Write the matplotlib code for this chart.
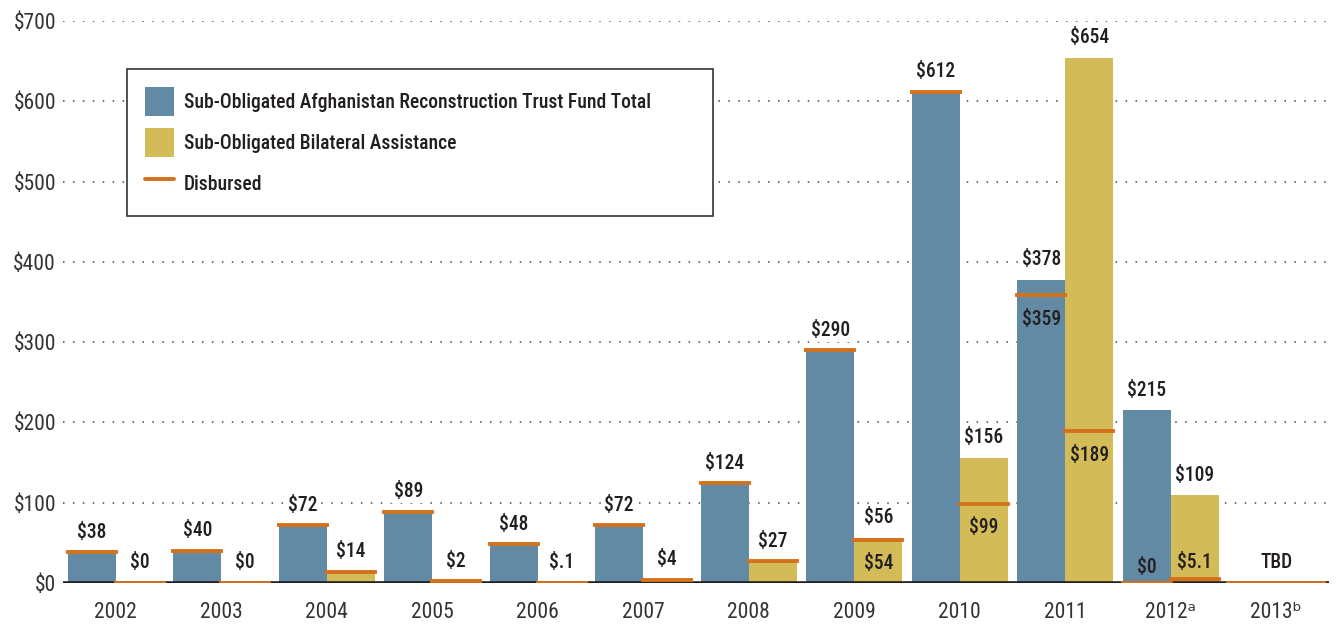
import numpy as np
import matplotlib
matplotlib.use("Agg")
import matplotlib.pyplot as plt
from matplotlib import font_manager as fm
from matplotlib.patches import Patch
from matplotlib.lines import Line2D

# Condensed sans for all text, with DejaVu Sans behind it for any missing glyph
available = {f.name for f in fm.fontManager.ttflist}
for cand in ["Roboto Condensed", "IBM Plex Sans Condensed", "Fira Sans Condensed",
             "Liberation Sans Narrow"]:
    if cand in available:
        BASE = cand
        break
else:
    BASE = "DejaVu Sans"
FAMILY = [BASE, "DejaVu Sans"]
plt.rcParams["font.family"] = FAMILY

# Fiscal years and amounts ($ millions)
years = ["2002", "2003", "2004", "2005", "2006", "2007", "2008", "2009",
         "2010", "2011", "2012\u1d43", "2013\u1d47"]
artf_obligated = [38, 40, 72, 89, 48, 72, 124, 290, 612, 378, 215, np.nan]
artf_disbursed = [38, 40, 72, 89, 48, 72, 124, 290, 612, 359, 0, np.nan]
bilat_obligated = [0, 0, 14, 2, 0.1, 4, 27, 56, 156, 654, 109, np.nan]
bilat_disbursed = [0, 0, 14, 2, 0.1, 4, 27, 54, 99, 189, 5.1, np.nan]
yticks = [0, 100, 200, 300, 400, 500, 600, 700]
legend_labels = [
    "Sub-Obligated Afghanistan Reconstruction Trust Fund Total",
    "Sub-Obligated Bilateral Assistance",
    "Disbursed",
]

BLUE = "#628AA4"
GOLD = "#D3BB58"
ORANGE = "#D4721C"
INK = "#231F20"


def money(v):
    if 0 < v < 1:
        return "$" + f"{v:.1f}"[1:]
    if float(v).is_integer():
        return f"${int(v)}"
    return f"${v:.1f}"


fig = plt.figure(figsize=(13.38, 6.25), dpi=100)
renderer = fig.canvas.get_renderer()


def fit_size(text, weight, width_px, base=12.0):
    """Font size at which `text` spans `width_px` pixels."""
    t = fig.text(0, 0, text, fontsize=base, fontweight=weight)
    w = t.get_window_extent(renderer).width
    t.remove()
    return base * width_px / w


LEG_FS = fit_size(legend_labels[0], "medium", 466)
VAL_FS = fit_size("$378", "medium", 39)
TICK_FS = fit_size("2002", "normal", 42)

ax = fig.add_axes([63 / 1338, 42 / 625, 1266 / 1338, 562 / 625])

n = len(years)
x = np.arange(n)
w = 0.455

ax.set_xlim(-0.5, n - 0.5)
ax.set_ylim(0, 700)

ax.set_yticks(yticks)
ax.set_yticklabels([f"${t}" for t in yticks])
ax.set_xticks(x)
ax.set_xticklabels(years)
ax.tick_params(axis="both", length=0, labelsize=TICK_FS, colors="#333333")
ax.tick_params(axis="y", pad=5)
ax.tick_params(axis="x", pad=14)
for s in ax.spines.values():
    s.set_visible(False)

ax.yaxis.grid(True, linestyle=(0, (1, 5.5)), color="#444444", lw=1.1, zorder=0.5)
ax.set_axisbelow(True)

label_kw = dict(ha="center", va="center", fontsize=VAL_FS, fontweight="medium",
                color=INK, textcoords="offset points")
box = dict(facecolor="white", edgecolor="none", pad=1.5)

series = [
    (x - w / 2, artf_obligated, artf_disbursed, BLUE),
    (x + w / 2, bilat_obligated, bilat_disbursed, GOLD),
]

for xs, oblig, disb, color in series:
    for xi, ob, db in zip(xs, oblig, disb):
        if np.isnan(ob):
            continue
        ax.bar(xi, ob, width=w, color=color, zorder=2)
        ax.hlines(db, xi - w / 2, xi + w / 2, color=ORANGE, lw=2.8,
                  capstyle="projecting", zorder=4)
        ax.annotate(money(ob), (xi, ob), xytext=(0, 14.5), bbox=box,
                    zorder=1.5, **label_kw)
        if db != ob:
            if db >= 40:
                ax.annotate(money(db), (xi, db), xytext=(0, -17.5),
                            zorder=5, **label_kw)
            else:
                ax.annotate(money(db), (xi, db), xytext=(0, 11.5),
                            zorder=5, **label_kw)

# Final year not yet allocated
ax.hlines(0, x[-1] - w, x[-1] + w, color=ORANGE, lw=2.8,
          capstyle="projecting", zorder=4)
ax.annotate("TBD", (x[-1], 0), xytext=(0, 15), zorder=5, **label_kw)

ax.axhline(0, color=INK, lw=2.6, zorder=3)

handles = [
    Patch(facecolor=BLUE, edgecolor="none"),
    Patch(facecolor=GOLD, edgecolor="none"),
    Line2D([0], [0], color=ORANGE, lw=2.8, solid_capstyle="round"),
]
leg_px = LEG_FS * 100 / 72
swatch = 29  # px
# legend handle boxes lose 0.35*(handleheight-0.7) to descent; undo that
hh = (swatch / leg_px - 0.245) / 0.65
leg = ax.legend(handles, legend_labels, loc="upper left",
                bbox_to_anchor=(127 / 1338, 1 - 216 / 625, 586 / 1338, 147 / 625),
                bbox_transform=fig.transFigure, mode="expand", borderaxespad=0,
                fancybox=False, frameon=True, framealpha=1,
                prop=dict(family=FAMILY, size=LEG_FS, weight="medium"),
                handlelength=swatch / leg_px, handleheight=hh,
                handletextpad=10 / leg_px,
                labelspacing=12 / leg_px, borderpad=18 / leg_px)
leg.get_frame().set_edgecolor("#333333")
leg.get_frame().set_linewidth(1.2)
for t in leg.get_texts():
    t.set_color(INK)

fig.savefig("out.png", dpi=100)
